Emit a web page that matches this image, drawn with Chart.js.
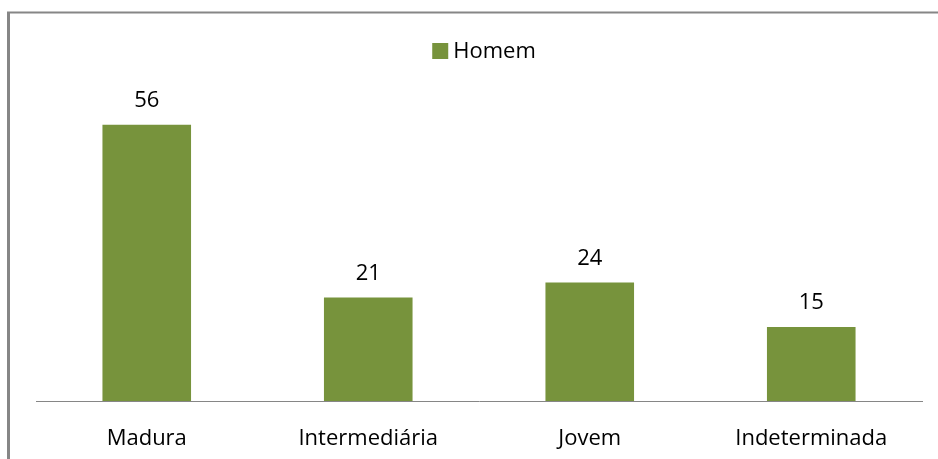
<!DOCTYPE html>
<html>
<head>
<meta charset="utf-8">
<script src="https://cdn.jsdelivr.net/npm/chart.js@4.4.0/dist/chart.umd.min.js"></script>
<style>
  html, body { margin: 0; padding: 0; background: #fff; }
  #wrap { position: relative; width: 938px; height: 459px; }
</style>
</head>
<body>
<div id="wrap"><canvas id="chart" width="938" height="459"></canvas></div>
<script>
// dados
const categories = ['Madura', 'Intermediária', 'Jovem', 'Indeterminada'];
const homem = [56, 21, 24, 15];
const seriesLabel = 'Homem';
const barColor = '#77933C';
const lineColor = '#868686';
const fontFamily = '"Open Sans", Lato, sans-serif';

// moldura cinza (topo e esquerda)
const frame = {
  id: 'frame',
  beforeDraw(chart) {
    const ctx = chart.ctx;
    ctx.save();
    ctx.strokeStyle = lineColor;
    ctx.lineWidth = 2;
    ctx.beginPath();
    ctx.moveTo(7, 12.5);
    ctx.lineTo(chart.width, 12.5);
    ctx.stroke();
    ctx.lineWidth = 3;
    ctx.beginPath();
    ctx.moveTo(8.5, 12);
    ctx.lineTo(8.5, chart.height);
    ctx.stroke();
    ctx.restore();
  }
};

// rótulos de valor e legenda
const labels = {
  id: 'labels',
  afterDatasetsDraw(chart) {
    const ctx = chart.ctx;
    const meta = chart.getDatasetMeta(0);
    ctx.save();
    ctx.font = '22px ' + fontFamily;
    ctx.fillStyle = '#000';
    ctx.textAlign = 'center';
    ctx.textBaseline = 'bottom';
    meta.data.forEach(function(bar, i) {
      ctx.fillText(String(homem[i]), bar.x, bar.y - 13);
    });

    // legenda
    const ds = chart.data.datasets[0];
    ctx.textAlign = 'left';
    ctx.textBaseline = 'middle';
    const tw = ctx.measureText(ds.label).width;
    const box = 16, gap = 5;
    const total = box + gap + tw;
    const cx = (chart.chartArea.left + chart.chartArea.right) / 2 + 5;
    const x0 = cx - total / 2;
    const y0 = 51;
    ctx.fillStyle = ds.backgroundColor;
    ctx.fillRect(x0, y0 - box / 2, box, box);
    ctx.fillStyle = '#000';
    ctx.fillText(ds.label, x0 + box + gap, y0 + 1);
    ctx.restore();
  }
};

new Chart(document.getElementById('chart'), {
  type: 'bar',
  data: {
    labels: categories,
    datasets: [{
      label: seriesLabel,
      data: homem,
      backgroundColor: barColor,
      categoryPercentage: 1,
      barPercentage: 0.4
    }]
  },
  options: {
    responsive: false,
    animation: false,
    layout: { padding: { top: 105, left: 36, right: 16, bottom: 0 } },
    plugins: {
      legend: { display: false },
      tooltip: { enabled: false }
    },
    scales: {
      x: {
        grid: { display: false },
        border: { display: true, color: lineColor, width: 1 },
        ticks: { color: '#000', font: { family: fontFamily, size: 22 }, padding: 17 },
        afterFit(scale) { scale.height = 58; }
      },
      y: {
        display: false,
        min: 0,
        max: 60
      }
    }
  },
  plugins: [frame, labels]
});
</script>
</body>
</html>
